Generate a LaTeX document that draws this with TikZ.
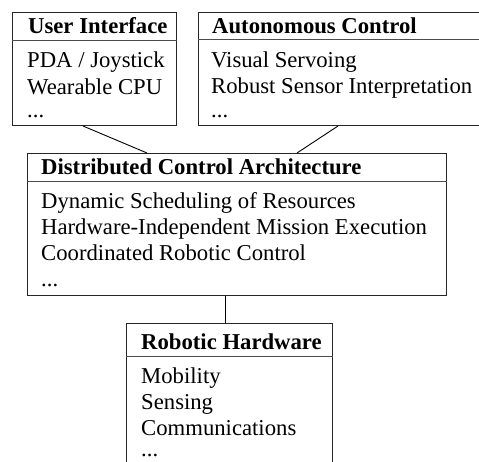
\documentclass[tikz,border=0pt]{standalone}
\usepackage{fontspec}
\setmainfont{Liberation Serif}
\begin{document}
\begin{tikzpicture}[x=1pt,y=-1pt,
  frame/.style={draw=black!85,line width=1pt,inner sep=0pt,anchor=north west},
  rule/.style={draw=black!70,line width=1pt},
  link/.style={draw=black,line width=0.9pt},
  head/.style={anchor=base west,inner sep=0pt,font=\fontsize{22.7}{26}\selectfont\bfseries},
  item/.style={anchor=base west,inner sep=0pt,font=\fontsize{22.7}{26}\selectfont}]
\clip (0,0) rectangle (479,462);

% boxes
\node[frame,minimum width=164pt,minimum height=113pt] (ui) at (12,12) {};
\node[frame,minimum width=300pt,minimum height=113pt] (ac) at (198,12) {};
\node[frame,minimum width=419pt,minimum height=142pt] (dca) at (27,153) {};
\node[frame,minimum width=206pt,minimum height=200pt] (rh) at (126,323) {};

% header rules
\draw[rule] (ui.west |- 0,41) -- (ui.east |- 0,41);
\draw[rule] (ac.west |- 0,40) -- (ac.east |- 0,40);
\draw[rule] (dca.west |- 0,182) -- (dca.east |- 0,182);
\draw[rule] (rh.west |- 0,356) -- (rh.east |- 0,356);

% connectors
\draw[link] ([xshift=71pt]ui.south west) -- ([xshift=120pt]dca.north west);
\draw[link] ([xshift=140pt]ac.south west) -- ([xshift=270pt]dca.north west);
\draw[link] ([xshift=198pt]dca.south west) -- ([xshift=99pt]rh.north west);

% User Interface
\node[head] (ui-h) at (28,33.3) {User Interface};
\node[item] (ui-1) at (27,67.5) {PDA / Joystick};
\node[item] (ui-2) at (27,94.3) {Wearable CPU};
\node[item] (ui-3) at (27,118) {...};

% Autonomous Control
\node[head] (ac-h) at (212,33.3) {Autonomous Control};
\node[item] (ac-1) at (211,67.5) {Visual Servoing};
\node[item] (ac-2) at (211,94) {Robust Sensor Interpretation};
\node[item] (ac-3) at (211,118) {...};

% Distributed Control Architecture
\node[head] (dca-h) at (41,174.3) {Distributed Control Architecture};
\node[item] (dca-1) at (41,208.7) {Dynamic Scheduling of Resources};
\node[item] (dca-2) at (41,234.7) {Hardware-Independent Mission Execution};
\node[item] (dca-3) at (41,260.7) {Coordinated Robotic Control};
\node[item] (dca-4) at (41,287) {...};

% Robotic Hardware
\node[head] (rh-h) at (141,349) {Robotic Hardware};
\node[item] (rh-1) at (141,383.3) {Mobility};
\node[item] (rh-2) at (141,409) {Sensing};
\node[item] (rh-3) at (141,435) {Communications};
\node[item] (rh-4) at (141,456.5) {...};
\end{tikzpicture}
\end{document}
